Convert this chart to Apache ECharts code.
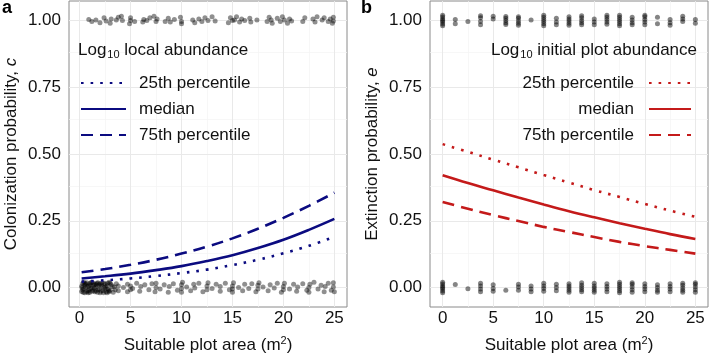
<!DOCTYPE html>
<html>
<head>
<meta charset="utf-8">
<script src="https://cdn.jsdelivr.net/npm/echarts@6/dist/echarts.min.js"></script>
<style>
  html, body { margin: 0; padding: 0; background: #fff; }
  #chart { width: 709px; height: 357px; }
</style>
</head>
<body>
<div id="chart"></div>
<script>
// ---- data ----
var xTicks = [0, 5, 10, 15, 20, 25]
var xMinor = [2.5, 7.5, 12.5, 17.5, 22.5]
var yTicks = [0, 0.25, 0.5, 0.75, 1]
var yMinor = [0.125, 0.375, 0.625, 0.875]

// panel a: colonization curves
var colonX = [0.2, 2.5, 5, 7.5, 10, 12.5, 15, 17.5, 20, 22.5, 25]
var colon25 = [0.022, 0.027, 0.034, 0.043, 0.054, 0.067, 0.084, 0.104, 0.128, 0.156, 0.19]
var colonMed = [0.034, 0.042, 0.052, 0.065, 0.08, 0.099, 0.121, 0.148, 0.179, 0.216, 0.257]
var colon75 = [0.057, 0.069, 0.085, 0.104, 0.127, 0.153, 0.184, 0.22, 0.261, 0.306, 0.355]

// panel b: extinction curves
var extX = [0, 2.5, 5, 7.5, 10, 12.5, 15, 17.5, 20, 22.5, 25]
var ext25 = [0.537, 0.508, 0.479, 0.45, 0.421, 0.393, 0.365, 0.339, 0.313, 0.288, 0.265]
var extMed = [0.42, 0.391, 0.364, 0.337, 0.311, 0.286, 0.263, 0.241, 0.22, 0.2, 0.182]
var ext75 = [0.32, 0.295, 0.271, 0.249, 0.227, 0.208, 0.189, 0.171, 0.155, 0.141, 0.127]

// panel a: observed colonizations (1) and non-colonizations (0)
var colonTop = [[0.9,1.004],[1.2,0.996],[1.6,1.002],[2.0,0.992],[2.4,1.01],[2.6,0.998],[3.0,0.99],[3.1,1.006],
  [3.6,1.002],[3.8,1.012],[4.1,1.016],[4.2,1.0],[4.9,0.988],[5.0,1.0],[5.0,1.01],[5.4,0.996],[6.2,0.994],
  [6.3,1.004],[6.6,1.0],[6.9,1.01],[7.3,1.016],[7.5,0.996],[7.6,1.006],[8.4,0.996],[8.7,1.008],[8.9,0.994],
  [9.3,1.004],[9.9,1.012],[10.0,0.996],[10.0,0.988],[11.1,1.002],[11.3,0.992],[11.7,1.006],[12.0,0.996],[12.3,1.01],
  [12.6,1.0],[13.0,1.014],[13.3,0.998],[14.6,0.992],[14.8,1.01],[15.0,1.0],[15.2,1.002],[15.4,1.014],[15.7,0.994],
  [15.9,1.006],[16.2,1.0],[16.7,1.008],[16.8,0.994],[17.4,1.002],[18.4,0.996],[18.6,1.012],[18.8,1.002],
  [18.9,0.99],[19.4,1.008],[19.7,0.996],[19.9,1.014],[20.1,1.002],[20.4,0.99],[20.6,1.006],[20.8,0.998],
  [21.9,0.996],[22.1,1.01],[22.9,1.006],[23.1,0.994],[23.3,1.014],[23.8,1.002],[24.0,1.01],[24.4,0.996],
  [24.6,1.006],[24.8,0.99],[24.9,1.012],[24.9,0.998]]
var colonBottom = [[0.2,-0.015],[0.2,0.005],[0.3,0.015],[0.4,-0.005],[0.5,0.01],[0.5,-0.02],[0.6,0.0],
  [0.7,0.018],[0.8,-0.012],[0.9,0.006],[1.0,-0.018],[1.0,0.014],[1.1,-0.004],[1.2,0.02],[1.3,-0.01],
  [1.4,0.008],[1.5,-0.016],[1.6,0.002],[1.7,0.016],[1.8,-0.008],[1.9,0.01],[2.0,-0.02],[2.1,0.004],
  [2.2,0.018],[2.3,-0.012],[2.4,0.0],[2.5,0.012],[2.6,-0.016],[2.7,0.006],[2.8,-0.006],[2.9,0.02],
  [3.0,-0.01],[3.1,0.01],[3.3,-0.018],[3.4,0.002],[0.3,-0.008],[0.6,0.012],[0.9,-0.01],[1.2,-0.002],
  [1.5,0.012],[1.8,0.018],[2.1,-0.014],[2.4,0.016],[2.7,-0.02],[3.0,0.016],[0.4,0.02],[0.7,-0.016],
  [1.1,0.018],[1.6,-0.012],[2.0,0.014],[2.5,-0.006],[2.9,-0.016],[0.25,0.0],[0.35,-0.018],[0.55,0.016],
  [0.75,0.004],[0.85,-0.02],[1.05,0.008],[1.25,-0.014],[1.35,0.016],[1.45,-0.002],[1.65,0.01],
  [1.75,-0.018],[1.95,-0.006],[2.15,0.01],[2.35,-0.02],[2.55,0.002],[2.75,0.016],[2.85,-0.012],
  [3.2,0.004],[3.5,-0.008],[3.6,0.014],
  [3.8,-0.012],[3.8,0.006],[4.3,0.0],[4.7,-0.016],[4.7,0.012],[5.0,-0.008],[5.0,0.006],[5.2,-0.004],[5.6,0.016],[5.9,-0.014],
  [6.0,0.004],[6.4,0.01],[6.8,-0.008],[7.1,0.014],[7.4,-0.016],[7.5,0.0],[7.5,0.016],[7.9,-0.006],
  [8.3,0.01],[8.7,-0.018],[8.8,0.004],[9.2,0.014],[9.6,-0.01],[10.0,-0.018],[10.0,-0.004],[10.0,0.01],
  [10.1,0.02],[10.5,0.002],[10.9,-0.012],[11.2,0.012],[11.3,-0.002],[11.7,0.016],[12.1,-0.016],
  [12.5,-0.008],[12.5,0.006],[12.6,0.018],[13.0,-0.004],[13.4,0.012],[13.8,-0.014],[13.8,0.004],
  [14.3,0.016],[14.7,-0.008],[15.0,-0.018],[15.0,-0.006],[15.0,0.006],[15.1,0.018],[15.6,0.0],
  [16.0,-0.012],[16.2,0.012],[16.6,-0.004],[16.9,0.014],[17.3,-0.016],[17.5,-0.006],[17.5,0.008],
  [17.6,0.018],[18.0,0.002],[18.5,-0.012],[18.7,0.01],[19.1,-0.002],[19.4,0.016],[19.8,-0.018],
  [20.0,-0.008],[20.0,0.004],[20.1,0.016],[20.6,-0.006],[21.0,0.012],[21.3,-0.014],[21.4,0.002],
  [21.9,0.014],[22.3,-0.01],[22.5,-0.018],[22.5,0.0],[22.6,0.012],[23.0,0.02],[23.4,-0.006],
  [23.7,0.008],[24.0,-0.016],[24.1,0.004],[24.4,0.016],[24.7,-0.01],[24.9,0.002],[24.9,0.018],[25.0,-0.016]]

// panel b: plot areas are in steps of 1.25; offsets are the vertical jitter of each point
var extCols = [0, 1.25, 2.5, 3.75, 5, 6.25, 7.5, 8.75, 10, 11.25, 12.5, 13.75, 15, 16.25, 17.5, 18.75, 20, 21.25, 22.5, 23.75, 25]
var extTopJit = [
  [-0.02,-0.013,-0.006,0,0.006,0.013,0.02], [-0.012,0.004], [-0.004], [-0.016,-0.004,0.01,0.018],
  [0.006,0.016], [-0.015,-0.008,0,0.008,0.015], [-0.018,-0.01,-0.002,0.008,0.014], [0.002],
  [-0.02,-0.012,-0.004,0.004,0.012,0.02], [-0.016,-0.006,0.008], [-0.018,-0.01,-0.002,0.006,0.014],
  [-0.016,-0.008,0,0.01,0.018], [-0.016,-0.006,0.006], [-0.014,-0.006,0.004,0.012,0.02],
  [-0.02,-0.012,-0.004,0.004,0.012,0.02], [-0.016,-0.008,0.002,0.012], [-0.016,-0.006,0.004,0.014,0.02],
  [-0.012,0.012], [-0.018,-0.008,0.004], [-0.004,0.006,0.016], [-0.01,0.004]]
var extBottomJit = [
  [-0.02,-0.013,-0.006,0,0.006,0.013,0.02], [0.011], [-0.005], [-0.016,-0.006,0.006,0.016],
  [-0.014,-0.004,0.01], [-0.01], [-0.01,0.002,0.012], [-0.016,-0.006,0.006], [-0.014,-0.004,0.006,0.016],
  [-0.012,0,0.012], [-0.018,-0.01,-0.002,0.006,0.014], [-0.016,-0.008,0,0.008,0.018],
  [-0.018,-0.01,-0.002,0.006,0.016], [-0.016,-0.006,0.004,0.014], [-0.02,-0.012,-0.004,0.004,0.012,0.02],
  [-0.018,-0.008,0.002,0.012,0.018], [-0.016,-0.006,0.004,0.014], [-0.018,-0.01,0,0.01],
  [-0.016,-0.006,0.004,0.014], [-0.018,-0.01,-0.002,0.008,0.016], [-0.018,-0.008,0.002,0.012,0.018]]

var legendNames = { a25: '25th percentile', amed: 'median', a75: '75th percentile',
  b25: '25th percentile', bmed: 'median', b75: '75th percentile' }

// ---- build ----
var FONT = 'Liberation Sans, Arial, Helvetica, sans-serif'
var TXT = '#111'
var BLUE = '#0b0b80'
var RED = '#c41a1a'

function pairs (xs, ys) {
  return xs.map(function (x, i) { return [x, ys[i]] })
}
function jittered (cols, jit, base) {
  var out = []
  cols.forEach(function (x, i) {
    jit[i].forEach(function (d) { out.push([x, base + d]) })
  })
  return out
}
function gridLines () {
  var d = []
  yMinor.forEach(function (v) { d.push({ yAxis: v, lineStyle: { color: '#f4f4f4', width: 0.7 } }) })
  xMinor.forEach(function (v) { d.push({ xAxis: v, lineStyle: { color: '#f4f4f4', width: 0.7 } }) })
  yTicks.forEach(function (v) { d.push({ yAxis: v, lineStyle: { color: '#e9e9e9', width: 1 } }) })
  xTicks.forEach(function (v) { d.push({ xAxis: v, lineStyle: { color: '#e9e9e9', width: 1 } }) })
  return {
    silent: true, symbol: ['none', 'none'], label: { show: false }, z: 1, animation: false,
    lineStyle: { type: 'solid' }, emphasis: { disabled: true }, data: d
  }
}
function xAxisOf (idx, min, max) {
  return {
    type: 'value', gridIndex: idx, min: min, max: max,
    axisLine: { show: false },
    axisTick: { show: true, length: 4, customValues: xTicks, lineStyle: { color: '#444' } },
    axisLabel: { customValues: xTicks, color: TXT, fontSize: 17, fontFamily: FONT, margin: 3 },
    splitLine: { show: false },
    name: '{t|Suitable plot area (m}{s|2}{t|)}', nameLocation: 'middle', nameGap: 28,
    nameTextStyle: { rich: {
      t: { fontSize: 17, color: TXT, fontFamily: FONT },
      s: { fontSize: 11, color: TXT, fontFamily: FONT, padding: [0, 0, 9, 0] }
    } }
  }
}
function yAxisOf (idx, label, sym) {
  return {
    type: 'value', gridIndex: idx, min: -0.073, max: 1.073,
    axisLine: { show: false },
    axisTick: { show: true, length: 4, customValues: yTicks, lineStyle: { color: '#444' } },
    axisLabel: { customValues: yTicks, color: TXT, fontSize: 17, fontFamily: FONT, margin: 8,
      formatter: function (v) { return v.toFixed(2) } },
    splitLine: { show: false },
    name: '{t|' + label + '}{i|' + sym + '}', nameLocation: 'middle', nameGap: 49,
    nameTextStyle: { rich: {
      t: { fontSize: 17, color: TXT, fontFamily: FONT },
      i: { fontSize: 17, color: TXT, fontFamily: FONT, fontStyle: 'italic' }
    } }
  }
}
function curve (name, idx, xs, ys, color, type) {
  return {
    name: name, type: 'line', xAxisIndex: idx, yAxisIndex: idx, data: pairs(xs, ys),
    smooth: 0.4, symbol: 'none', z: 4, silent: true,
    lineStyle: { color: color, width: 2.6, type: type, cap: 'butt' },
    itemStyle: { color: color }
  }
}
function dots (idx, data, markLine, alpha) {
  return {
    type: 'scatter', xAxisIndex: idx, yAxisIndex: idx, data: data, symbolSize: 5, z: 3, silent: true,
    itemStyle: { color: 'rgba(0,0,0,' + alpha + ')' }, markLine: markLine
  }
}
function titleRich () {
  return {
    n: { fontSize: 17, color: TXT, fontFamily: FONT, fontWeight: 'normal' },
    s: { fontSize: 11, color: TXT, fontFamily: FONT, fontWeight: 'normal', padding: [8, 0, 0, 1] }
  }
}

var DOT = [2.6, 7]
var DASH = [12, 7]

var option = {
  animation: false,
  backgroundColor: '#fff',
  textStyle: { fontFamily: FONT },
  title: [
    { text: 'a', left: 2, top: -1, padding: 0, textStyle: { fontSize: 18, fontWeight: 'bold', color: '#000', fontFamily: FONT } },
    { text: 'b', left: 361, top: -1, padding: 0, textStyle: { fontSize: 18, fontWeight: 'bold', color: '#000', fontFamily: FONT } },
    { text: '{n|Log}{s|10}{n| local abundance}', left: 78, top: 41, padding: 0,
      textStyle: { fontWeight: 'normal', rich: titleRich() } },
    { text: '{n|Log}{s|10}{n| initial plot abundance}', right: 12, top: 41, padding: 0,
      textStyle: { fontWeight: 'normal', rich: titleRich() } }
  ],
  legend: [
    { data: ['a25', 'amed', 'a75'], orient: 'vertical', left: 80, top: 74, padding: 0,
      itemWidth: 45, itemHeight: 14, itemGap: 8, selectedMode: false,
      itemStyle: { opacity: 0 },
      formatter: function (n) { return legendNames[n] },
      textStyle: { fontSize: 17, color: TXT, fontFamily: FONT, lineHeight: 18, padding: [0, 0, 0, 8] } },
    { data: ['b25', 'bmed', 'b75'], orient: 'vertical', right: 17, top: 74, padding: 0, align: 'right',
      itemWidth: 42, itemHeight: 14, itemGap: 8, selectedMode: false,
      itemStyle: { opacity: 0 },
      formatter: function (n) { return legendNames[n] },
      textStyle: { fontSize: 17, color: TXT, fontFamily: FONT, lineHeight: 18, padding: [0, 10, 0, 0] } }
  ],
  grid: [
    { left: 69, top: 1, width: 278, height: 306, show: true, borderColor: '#8a8a8a', borderWidth: 1,
      backgroundColor: '#fff', containLabel: false, outerBoundsMode: 'none' },
    { left: 430, top: 1, width: 278, height: 306, show: true, borderColor: '#8a8a8a', borderWidth: 1,
      backgroundColor: '#fff', containLabel: false, outerBoundsMode: 'none' }
  ],
  xAxis: [xAxisOf(0, -1.04, 26.24), xAxisOf(1, -1.25, 26.25)],
  yAxis: [yAxisOf(0, 'Colonization probability, ', 'c'), yAxisOf(1, 'Extinction probability, ', 'e')],
  series: [
    dots(0, colonTop.concat(colonBottom), gridLines(), 0.55),
    dots(1, jittered(extCols, extTopJit, 1).concat(jittered(extCols, extBottomJit, 0)), gridLines(), 0.6),
    curve('a25', 0, colonX, colon25, BLUE, DOT),
    curve('amed', 0, colonX, colonMed, BLUE, 'solid'),
    curve('a75', 0, colonX, colon75, BLUE, DASH),
    curve('b25', 1, extX, ext25, RED, DOT),
    curve('bmed', 1, extX, extMed, RED, 'solid'),
    curve('b75', 1, extX, ext75, RED, DASH)
  ]
}

var chart = echarts.init(document.getElementById('chart'), null, { renderer: 'canvas' })
chart.setOption(option)
</script>
</body>
</html>
